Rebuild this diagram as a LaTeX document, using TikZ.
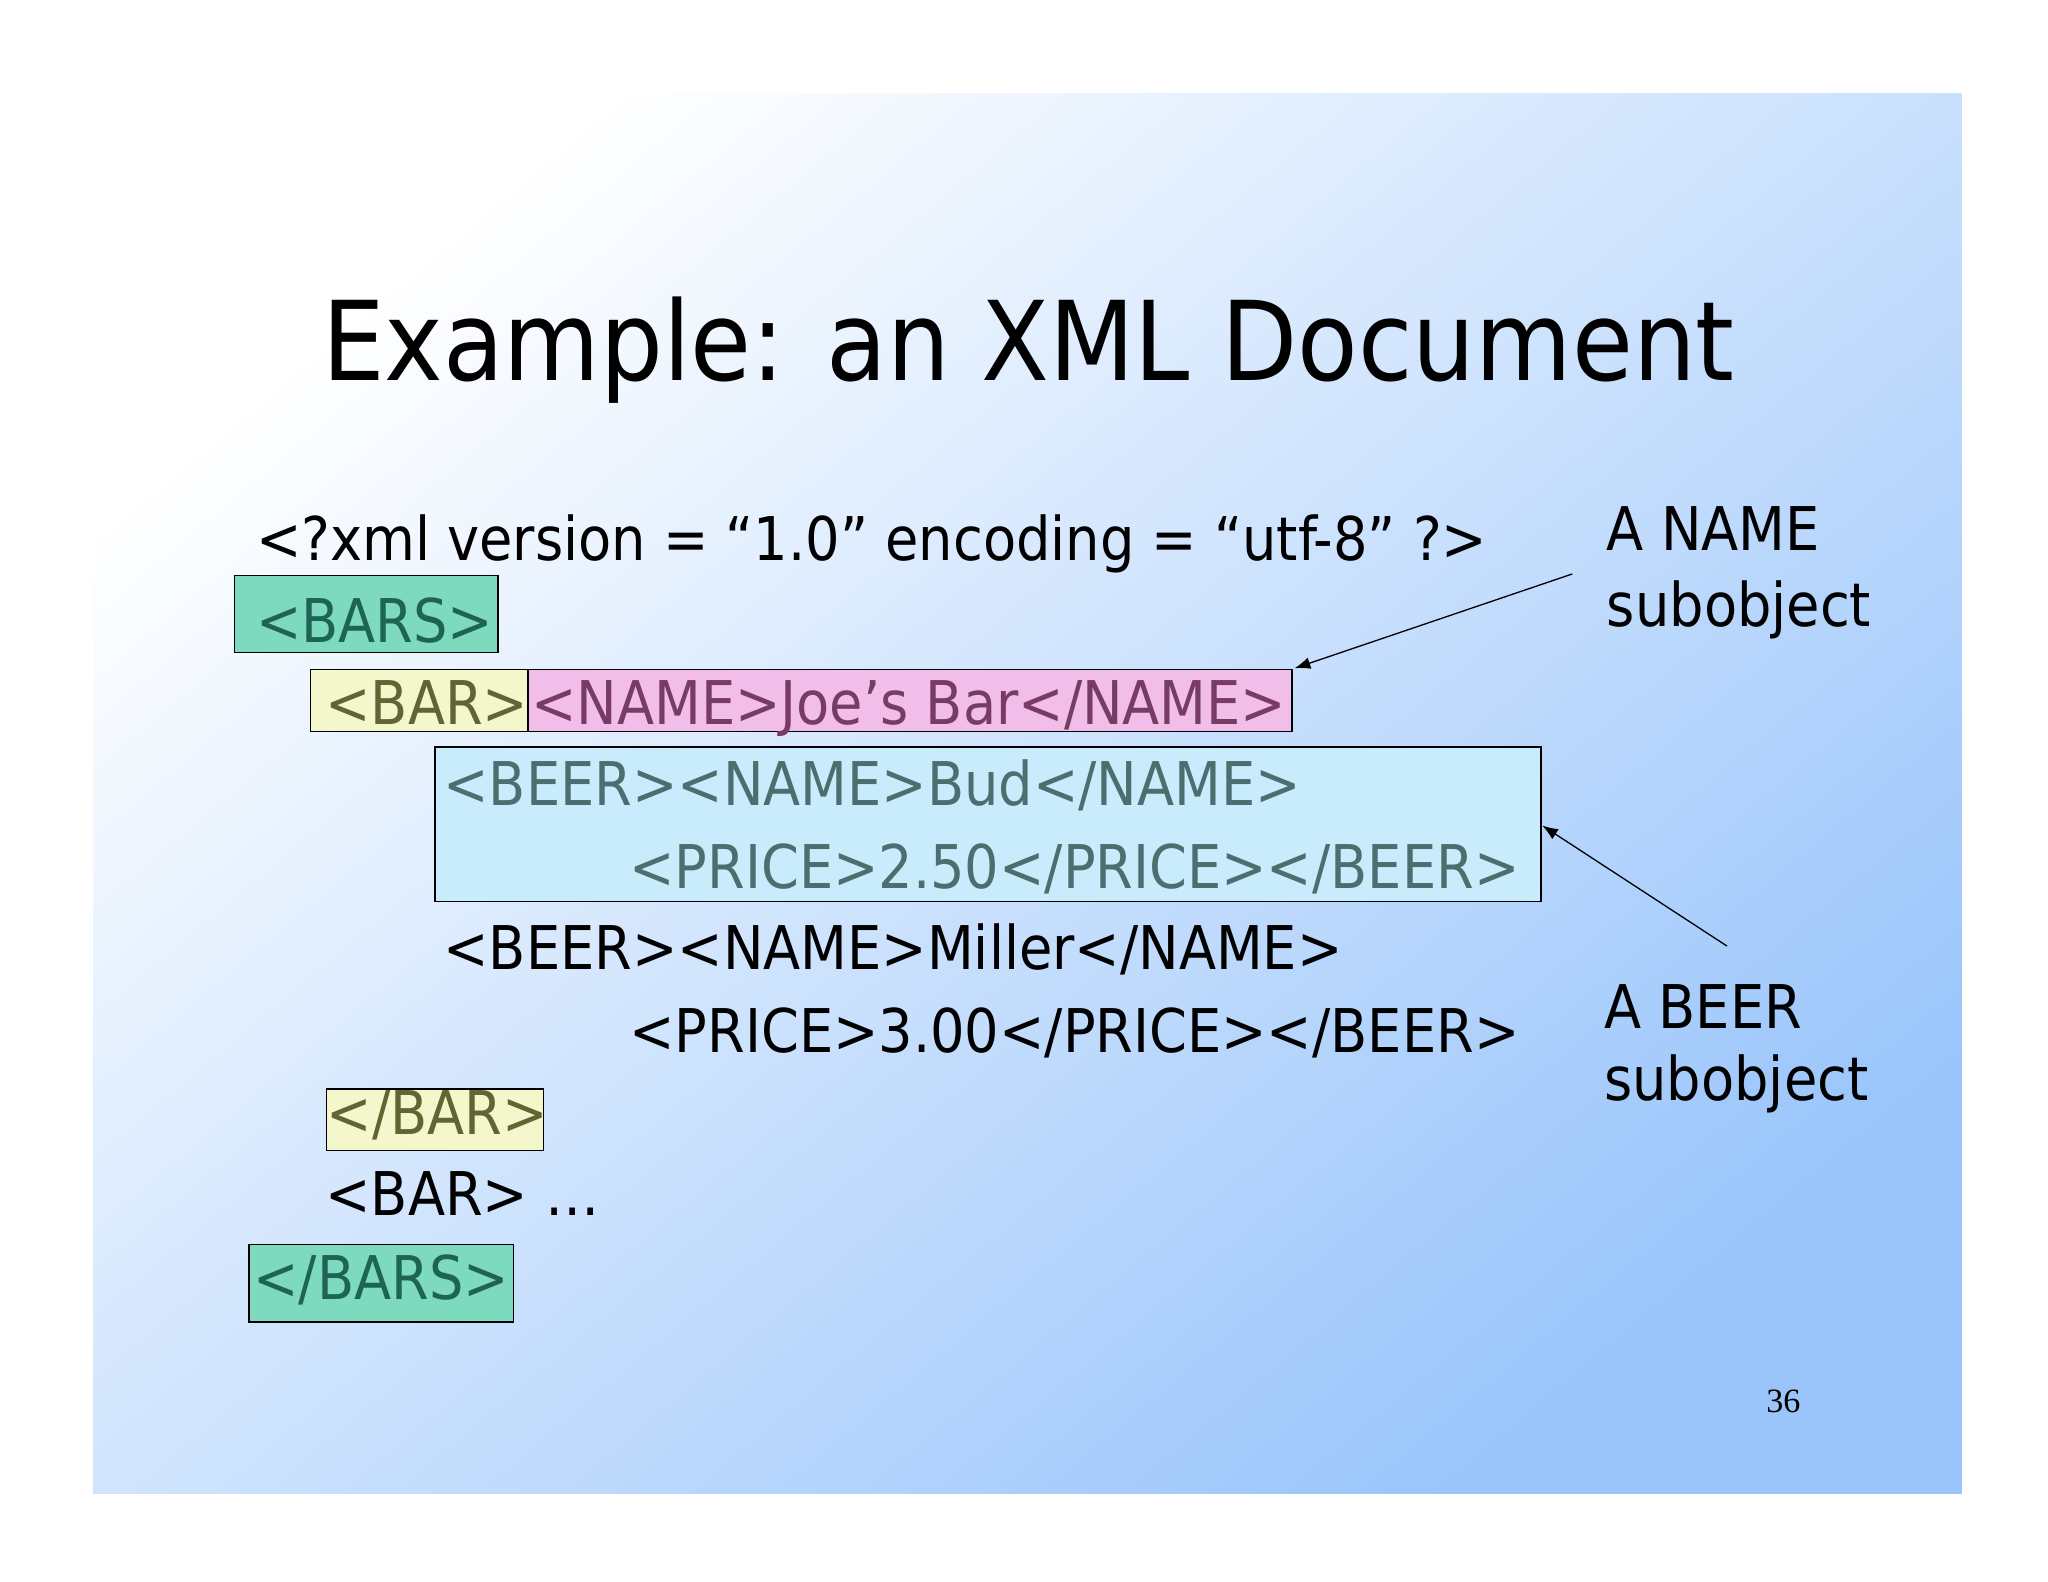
\documentclass[tikz,border=0pt]{standalone}
\usepackage{fontspec}
\usetikzlibrary{arrows.meta}
\setmainfont{DejaVu Sans Condensed}
\newfontfamily\serifnum{Liberation Serif}
\definecolor{bgA}{RGB}{255,255,255}
\definecolor{bgB}{RGB}{154,197,251}
\definecolor{tealF}{RGB}{125,218,190}
\definecolor{tealT}{RGB}{30,100,85}
\definecolor{ylwF}{RGB}{244,247,204}
\definecolor{ylwT}{RGB}{100,100,50}
\definecolor{pinkF}{RGB}{240,190,232}
\definecolor{pinkT}{RGB}{120,60,100}
\definecolor{blueF}{RGB}{200,236,252}
\definecolor{blueT}{RGB}{75,110,110}
\begin{document}
\begin{tikzpicture}[x=0.5pt,y=-0.5pt,
  txt/.style={anchor=base west,inner sep=0pt,font=\fontsize{23}{27}\selectfont},
  tealbox/.style={draw=black,fill=tealF,line width=0.5pt},
  ylwbox/.style={draw=black,fill=ylwF,line width=0.5pt},
  pinkbox/.style={draw=black,fill=pinkF,line width=0.5pt},
  bluebox/.style={draw=black,fill=blueF,line width=0.5pt},
  pointer/.style={-{Latex[length=6pt,width=4.5pt]},line width=0.5pt}]
\useasboundingbox (0,0) rectangle (1563,1207);
\fill[white] (0,0) rectangle (1563,1207);
\shade[top color=bgA,bottom color=bgB,shading angle=40] (71,71) rectangle (1497,1140);
\node[anchor=base,inner sep=0pt,font=\fontsize{42}{50}\selectfont] (title) at (785,290) {Example: an XML Document};
% boxes
\path[tealbox] (179,439) rectangle (380,498);
\path[ylwbox] (237,511) rectangle (403,558);
\path[pinkbox] (403,511) rectangle (986,558);
\path[bluebox] (332,570) rectangle (1176,688);
\path[ylwbox] (249,831) rectangle (415,878);
\path[tealbox] (190,950) rectangle (392,1009);
% text
\node[txt] (xml) at (195,428) {<?xml version = “1.0” encoding = “utf-8” ?>};
\node[txt,text=tealT] (bars) at (195,490) {<BARS>};
\node[txt,text=ylwT] (bar) at (248,553) {<BAR>};
\node[txt,text=pinkT] (name) at (405,553) {<NAME>Joe’s Bar</NAME>};
\node[txt,text=blueT] (beer1) at (338,615) {<BEER><NAME>Bud</NAME>};
\node[txt,text=blueT] (price1) at (480,678) {<PRICE>2.50</PRICE></BEER>};
\node[txt] (beer2) at (338,740) {<BEER><NAME>Miller</NAME>};
\node[txt] (price2) at (480,803) {<PRICE>3.00</PRICE></BEER>};
\node[txt,text=ylwT] (ebar) at (249,866) {</BAR>};
\node[txt] (bar2) at (248,928) {<BAR> …};
\node[txt,text=tealT] (ebars) at (193,992) {</BARS>};
% labels
\node[txt] (l1) at (1226,420) {A NAME};
\node[txt] (l1b) at (1226,478) {subobject};
\node[txt] (l2) at (1224,785) {A BEER};
\node[txt] (l2b) at (1224,840) {subobject};
\node[anchor=base,inner sep=0pt,font=\serifnum\fontsize{13}{15}\selectfont] (pg) at (1361,1078) {36};
% arrows
\coordinate (a1s) at (1200,438); \coordinate (a1e) at (988,510);
\coordinate (a2s) at (1318,722); \coordinate (a2e) at (1177,630);
\draw[pointer] (a1s) -- (a1e);
\draw[pointer] (a2s) -- (a2e);
\end{tikzpicture}
\end{document}
